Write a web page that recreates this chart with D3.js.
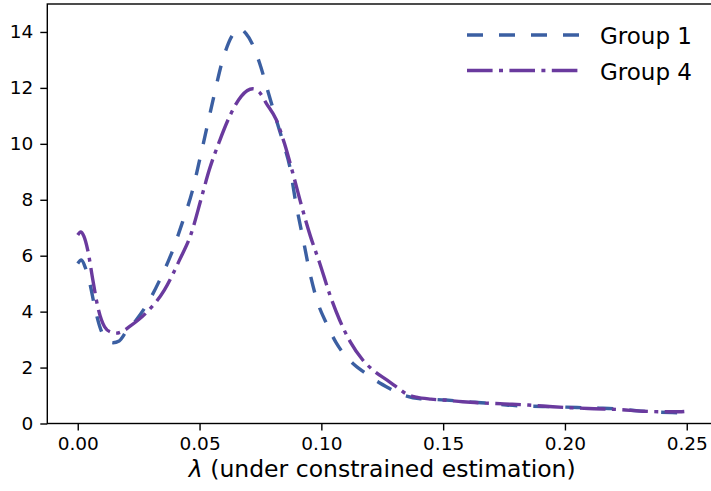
<!DOCTYPE html>
<html>
<head>
<meta charset="utf-8">
<script src="https://cdn.jsdelivr.net/npm/d3@7"></script>
<style>
  html, body { margin: 0; padding: 0; background: #fff; }
  svg { display: block; font-family: "DejaVu Sans", sans-serif; }
</style>
</head>
<body>
<svg id="chart" width="711" height="491"></svg>
<script>
// ---- data ----
const seriesNames = ["Group 1", "Group 4"];
const group1X = [0.000,0.0015,0.003,0.005,0.007,0.0095,0.012,0.0145,0.017,0.020,0.024,0.028,0.0335,0.039,0.043,0.047,0.051,0.0555,0.0595,0.0636,0.0665,0.069,0.0715,0.0746,0.078,0.0815,0.0845,0.087,0.0895,0.0925,0.0955,0.099,0.102,0.106,0.1115,0.118,0.123,0.128,0.132,0.135,0.140,0.151,0.160,0.168,0.176,0.185,0.195,0.205,0.214,0.222,0.230,0.238,0.244,0.249];
const group1Y = [5.72,5.85,5.6,5.0,4.15,3.35,3.0,2.89,2.95,3.3,3.7,4.2,5.1,6.2,7.2,8.3,9.8,11.55,13.0,13.9,14.12,13.95,13.6,12.9,11.9,10.86,10.0,9.2,7.9,6.6,5.3,4.2,3.6,2.9,2.27,1.8,1.5,1.25,1.07,0.98,0.89,0.84,0.78,0.73,0.66,0.62,0.6,0.57,0.55,0.52,0.45,0.41,0.39,0.38];
const group4X = [0.000,0.0012,0.0025,0.0041,0.0062,0.0082,0.011,0.0135,0.0158,0.0185,0.0212,0.028,0.0356,0.0418,0.0466,0.0507,0.054,0.0582,0.063,0.0671,0.0718,0.0745,0.0774,0.0815,0.0849,0.0883,0.0915,0.0955,0.0993,0.1035,0.1075,0.112,0.117,0.122,0.127,0.131,0.135,0.139,0.145,0.150,0.158,0.165,0.175,0.185,0.195,0.203,0.212,0.222,0.232,0.240,0.247,0.249];
const group4Y = [6.74,6.85,6.7,6.2,5.13,4.18,3.46,3.27,3.23,3.3,3.46,3.95,4.78,5.85,6.8,8.05,9.07,10.1,11.1,11.7,11.97,11.85,11.45,10.86,10.0,8.95,7.9,6.7,5.74,4.6,3.7,2.9,2.27,1.85,1.55,1.3,1.05,0.94,0.87,0.84,0.78,0.74,0.7,0.66,0.6,0.56,0.53,0.5,0.44,0.42,0.42,0.43];
const xTicks = [0.00, 0.05, 0.10, 0.15, 0.20, 0.25];
const yTicks = [0, 2, 4, 6, 8, 10, 12, 14];
const xLabel = "(under constrained estimation)";

// ---- layout ----
const svg = d3.select("#chart");
const mLeft = 47.3, mRight = 717.2, mTop = 4, mBottom = 423.5;
const x = d3.scaleLinear().domain([-0.0125, 0.2625]).range([mLeft, mRight]);
const y = d3.scaleLinear().domain([0, 15]).range([mBottom, mTop]);

const colors = ["#3b5fa2", "#6a3a9e"];
const dashes = ["16,16", "25.6,6.4,4,6.4"];
const lw = 3.4;

const series = [
  group1X.map((d, i) => [d, group1Y[i]]),
  group4X.map((d, i) => [d, group4Y[i]])
];

const line = d3.line().x(d => x(d[0])).y(d => y(d[1])).curve(d3.curveMonotoneX);

series.forEach((s, i) => {
  svg.append("path")
    .datum(s)
    .attr("d", line)
    .attr("fill", "none")
    .attr("stroke", colors[i])
    .attr("stroke-width", lw)
    .attr("stroke-dasharray", dashes[i])
    .attr("stroke-linecap", "butt");
});

// frame
svg.append("rect")
  .attr("x", mLeft).attr("y", mTop)
  .attr("width", mRight - mLeft).attr("height", mBottom - mTop)
  .attr("fill", "none").attr("stroke", "#000").attr("stroke-width", 1.4);

// axes
const xAxis = d3.axisBottom(x).tickValues(xTicks).tickFormat(d3.format(".2f")).tickSize(7).tickPadding(6);
const gx = svg.append("g").attr("transform", `translate(0,${mBottom})`).call(xAxis);
gx.select(".domain").remove();
gx.selectAll("line").attr("stroke", "#000").attr("stroke-width", 1.4);
gx.selectAll("text").attr("font-size", 18.5).attr("fill", "#000")
  .attr("font-family", "DejaVu Sans");

const yAxis = d3.axisLeft(y).tickValues(yTicks).tickFormat(d3.format("d")).tickSize(7).tickPadding(7);
const gy = svg.append("g").attr("transform", `translate(${mLeft},0)`).call(yAxis);
gy.select(".domain").remove();
gy.selectAll("line").attr("stroke", "#000").attr("stroke-width", 1.4);
gy.selectAll("text").attr("font-size", 18.5).attr("fill", "#000")
  .attr("font-family", "DejaVu Sans");

// x label
const lab = svg.append("text")
  .attr("x", (mLeft + mRight) / 2).attr("y", 477)
  .attr("text-anchor", "middle").attr("font-size", 23.5).attr("fill", "#000");
lab.append("tspan").attr("font-style", "italic").text("λ");
lab.append("tspan").text(" " + xLabel);

// legend
const legY = [35, 70.5];
seriesNames.forEach((name, i) => {
  svg.append("line")
    .attr("x1", 467).attr("x2", 580)
    .attr("y1", legY[i]).attr("y2", legY[i])
    .attr("stroke", colors[i]).attr("stroke-width", lw)
    .attr("stroke-dasharray", dashes[i]);
  svg.append("text")
    .attr("x", 600).attr("y", legY[i] + 9)
    .attr("font-size", 23).attr("fill", "#000")
    .text(name);
});
</script>
</body>
</html>
